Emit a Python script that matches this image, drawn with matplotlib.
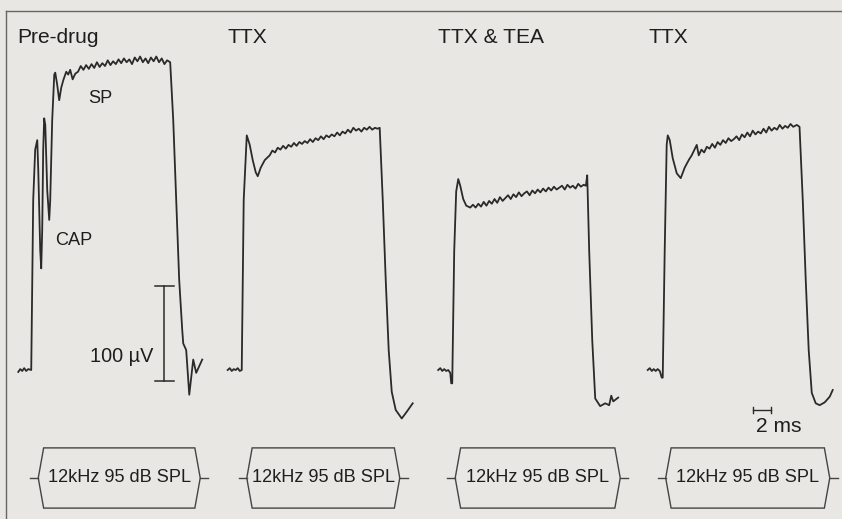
import matplotlib
matplotlib.use("Agg")
import matplotlib.pyplot as plt
from matplotlib import font_manager
from matplotlib.patches import Polygon
from matplotlib.lines import Line2D
from matplotlib.transforms import blended_transform_factory

# dar yazi tipi varsa onu kullan, yoksa puntolari biraz kucult
names = {f.name for f in font_manager.fontManager.ttflist}
narrow = "Liberation Sans Narrow" in names
font = "Liberation Sans Narrow" if narrow else "Liberation Sans"
plt.rcParams["font.family"] = [font, "DejaVu Sans"]
k = 1.0 if narrow else 0.84

# kosullar ve uyaran
conditions = ["Pre-drug", "TTX", "TTX & TEA", "TTX"]
stimulus = "12kHz 95 dB SPL"
tone_on = [0.78, 0.56, 0.33, 0.33]      # ms
tone_off = [18.78, 17.56, 18.67, 18.56]  # ms

# Pre-drug kaydi (ms, uV)
t_pre = [-1.44, -1.22, -1.0, -0.78, -0.56, -0.33, 0.0, 0.22, 0.44, 0.67, 0.78, 1.0, 1.11,
         1.22, 1.33, 1.44, 1.56, 1.78, 2.0, 2.11, 2.33, 2.56, 2.67, 2.89, 3.11, 3.33, 3.56,
         3.89, 4.11, 4.33,
         4.6, 4.9, 5.2, 5.5, 5.8, 6.1, 6.4, 6.7, 7.0, 7.3, 7.6, 7.9, 8.2, 8.5, 8.8, 9.1,
         9.4, 9.7, 10.0, 10.3, 10.6, 10.9, 11.2, 11.5, 11.8, 12.1, 12.4, 12.7, 13.0, 13.3,
         13.6, 13.9, 14.2, 14.5, 14.8, 15.1,
         15.44, 15.78, 16.11, 16.44, 16.78, 16.89, 17.22, 17.56, 18.0, 18.33, 19.0]
v_pre = [-2, 1, -1, 2, -1, 1, 0, 179, 232, 242, 211, 126, 107,
         147, 232, 265, 258, 189, 158, 179, 263, 311, 313, 300, 284, 297, 305,
         314, 311, 316,
         306, 312, 314, 320, 316, 321, 317, 322, 318, 324, 319, 323, 320, 326, 321, 325,
         322, 327, 323, 328, 324, 327, 322, 329, 325, 330, 324, 328, 323, 329,
         325, 330, 324, 328, 322, 326,
         324, 263, 179, 95, 42, 28, 21, -26, 11, -3, 11]

# TTX kaydi
t_ttx = [-1.56, -1.33, -1.11, -0.89, -0.67, -0.44, -0.22, 0.0, 0.22, 0.56, 0.89, 1.22,
         1.56, 1.78, 2.11, 2.56, 3.11,
         3.4, 3.7, 4.0, 4.3, 4.6, 4.9, 5.2, 5.5, 5.8, 6.1, 6.4, 6.7, 7.0, 7.3, 7.6, 7.9,
         8.2, 8.5, 8.8, 9.1, 9.4, 9.7, 10.0, 10.3, 10.6, 10.9, 11.2, 11.5, 11.8, 12.1,
         12.4, 12.7, 13.0, 13.3, 13.6, 13.9, 14.2, 14.5, 14.8, 15.1,
         15.33, 15.67, 16.0, 16.33, 16.67, 17.11, 17.78, 18.33, 19.0]
v_ttx = [0, 2, -1, 1, 0, 2, -1, 0, 179, 247, 237, 221,
         208, 204, 213, 221, 226,
         231, 229, 234, 232, 236, 233, 237, 235, 239, 236, 240, 238, 241, 239, 243, 240,
         244, 242, 246, 243, 247, 245, 248, 246, 250, 247, 251, 249, 253, 250,
         255, 252, 254, 251, 255, 253, 256, 253, 255, 254,
         255, 179, 95, 21, -23, -42, -51, -44, -35]

# TTX & TEA kaydi
t_tea = [-1.56, -1.33, -1.11, -0.89, -0.67, -0.44, -0.22, -0.11, 0.0, 0.22, 0.44, 0.67,
         0.89, 1.22, 1.56, 2.0,
         2.3, 2.6, 2.9, 3.2, 3.5, 3.8, 4.1, 4.4, 4.7, 5.0, 5.3, 5.6, 5.9, 6.2, 6.5, 6.8,
         7.1, 7.4, 7.7, 8.0, 8.3, 8.6, 8.9, 9.2, 9.5, 9.8, 10.1, 10.4, 10.7, 11.0, 11.3,
         11.6, 11.9, 12.2, 12.5, 12.8, 13.1, 13.4, 13.7, 14.0, 14.3, 14.6,
         14.85, 15.0, 15.22, 15.56, 15.89, 16.44, 17.0, 17.44, 17.67, 17.89, 18.44]
v_tea = [0, 2, -1, 1, -1, 0, -3, -14, -14, 125, 188, 201,
         194, 180, 173, 171,
         174, 171, 175, 172, 177, 173, 178, 175, 180, 176, 182, 178, 181, 184, 180, 185,
         182, 187, 183, 186, 188, 184, 189, 186, 190, 187, 191, 188, 192, 189, 193,
         190, 192, 194, 190, 195, 192, 194, 191, 196, 193, 195,
         194, 205, 125, 31, -30, -38, -35, -37, -27, -33, -29]

# TTX (ikinci) kaydi
t_ttx2 = [-1.67, -1.44, -1.22, -1.0, -0.78, -0.56, -0.33, -0.11, 0.0, 0.22, 0.44, 0.56,
          0.78, 1.11, 1.56, 2.0, 2.44, 2.89, 3.22, 3.78, 4.0,
          4.3, 4.6, 4.9, 5.2, 5.5, 5.8, 6.1, 6.4, 6.7, 7.0, 7.3, 7.6, 7.9, 8.2, 8.5, 8.8,
          9.1, 9.4, 9.7, 10.0, 10.3, 10.6, 10.9, 11.2, 11.5, 11.8, 12.1, 12.4, 12.7, 13.0,
          13.3, 13.6, 13.9, 14.2, 14.5, 14.9, 15.2,
          15.56, 15.89, 16.22, 16.56, 17.0, 17.44, 18.0, 18.56, 18.89]
v_ttx2 = [0, 2, -1, 1, -1, 1, -1, -8, -8, 126, 237, 247,
          242, 223, 207, 202, 213, 221, 226, 237, 226,
          232, 229, 235, 233, 238, 234, 240, 237, 242, 239, 244, 241, 243, 246, 242, 248,
          245, 250, 246, 252, 248, 251, 249, 254, 250, 256, 252, 255, 253, 258,
          254, 257, 255, 259, 256, 258, 256,
          179, 95, 21, -24, -35, -37, -34, -28, -21]

times = [t_pre, t_ttx, t_tea, t_ttx2]
volts = [v_pre, v_ttx, v_tea, v_ttx2]

bg = "#e9e7e3"
ink = "#2a2a2a"
txt = "#1e1e1e"

fig = plt.figure(figsize=(8.42, 5.19), dpi=100, facecolor=bg)

for i in range(4):
    ax = fig.add_axes([i / 4, 0, 0.25, 1])
    ax.set_xlim(-3.47, 19.92)
    ax.set_ylim(-156.8, 389.5)
    ax.axis("off")
    ax.plot(times[i], volts[i], color=ink, lw=1.3)

    tr = blended_transform_factory(ax.transData, ax.transAxes)
    ax.text(-1.6, 0.917, conditions[i], transform=tr,
            fontsize=18 * k, color=txt, va="baseline", ha="left")

    # uyaran kutusu (altigen)
    a, b = tone_on[i], tone_off[i]
    d = 0.6
    top, mid, bot = 0.137, 0.079, 0.021
    box = Polygon([(a, mid), (a + d, top), (b - d, top), (b, mid), (b - d, bot), (a + d, bot)],
                  closed=True, fill=False, edgecolor="#444444", lw=1.0, transform=tr)
    ax.add_patch(box)
    ax.plot([a - 0.9, a], [mid, mid], color="#444444", lw=1.0, transform=tr)
    ax.plot([b, b + 0.9], [mid, mid], color="#444444", lw=1.0, transform=tr)
    ax.text((a + b) / 2, mid, stimulus, transform=tr, fontsize=15.5 * k, color=txt,
            ha="center", va="center")

    if i == 0:
        ax.text(6.3, 281, "SP", fontsize=15.5 * k, color=txt, va="baseline")
        ax.text(2.67, 132, "CAP", fontsize=15.5 * k, color=txt, va="baseline")
        # 100 uV olcek cubugu
        ax.plot([14.8, 14.8], [-12, 88], color=ink, lw=1.1)
        ax.plot([13.75, 15.85], [-12, -12], color=ink, lw=1.1)
        ax.plot([13.75, 15.85], [88, 88], color=ink, lw=1.1)
        ax.text(13.55, 8, "100 \u00b5V", fontsize=17 * k, color=txt, ha="right", va="baseline")
    if i == 3:
        # 2 ms olcek cubugu
        ax.plot([10.0, 12.0], [-42, -42], color=ink, lw=1.0)
        ax.plot([10.0, 10.0], [-39, -45], color=ink, lw=1.0)
        ax.plot([12.0, 12.0], [-39, -45], color=ink, lw=1.0)
        ax.text(10.4, -49, "2 ms", fontsize=18 * k, color=txt, ha="left", va="top")

# cerceve (sol ve ust kenar)
fig.add_artist(Line2D([6 / 842, 6 / 842], [0, 1 - 11 / 519], color="#666666", lw=1.0))
fig.add_artist(Line2D([6 / 842, 1], [1 - 11 / 519, 1 - 11 / 519], color="#666666", lw=1.0))

fig.savefig("out.png", dpi=100, facecolor=bg)
